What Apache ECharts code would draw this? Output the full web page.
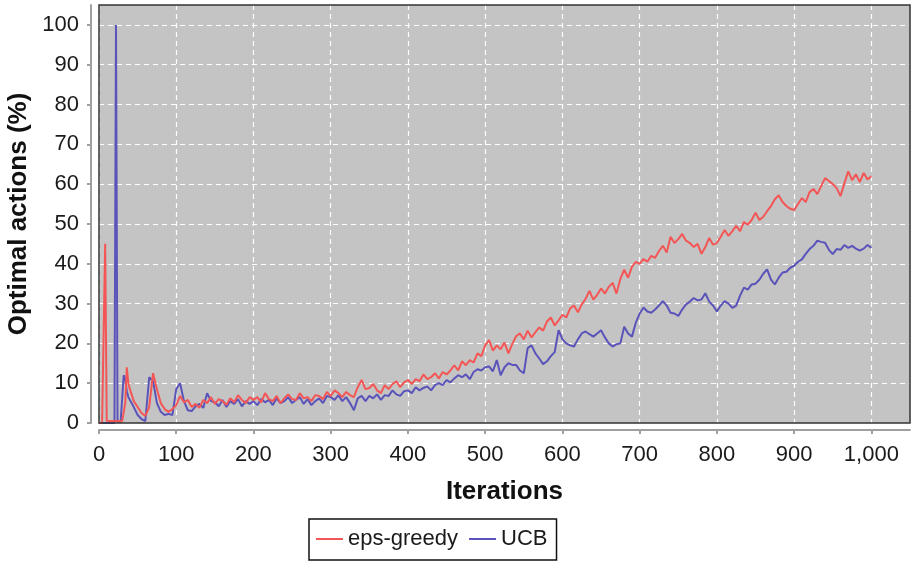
<!DOCTYPE html>
<html>
<head>
<meta charset="utf-8">
<script src="https://cdn.jsdelivr.net/npm/echarts@6/dist/echarts.min.js"></script>
<style>
html,body{margin:0;padding:0;background:#fff;}
#chart{width:911px;height:561px;}
</style>
</head>
<body>
<div id="chart"></div>
<script>
// Iteration positions of the sampled points
const iterations = [
  0,2,4,6,8,10,12,14,16,18,20,22,24,26,28,30,32,34,36,38,
  40,45,50,55,60,65,70,75,80,85,90,95,100,105,110,115,120,125,130,135,140,145,150,155,160,165,170,175,180,185,190,195,
  200,205,210,215,220,225,230,235,240,245,250,255,260,265,270,275,280,285,290,295,
  300,305,310,315,320,325,330,335,340,345,350,355,360,365,370,375,380,385,390,395,
  400,405,410,415,420,425,430,435,440,445,450,455,460,465,470,475,480,485,490,495,
  500,505,510,515,520,525,530,535,540,545,550,555,560,565,570,575,580,585,590,595,
  600,605,610,615,620,625,630,635,640,645,650,655,660,665,670,675,680,685,690,695,
  700,705,710,715,720,725,730,735,740,745,750,755,760,765,770,775,780,785,790,795,
  800,805,810,815,820,825,830,835,840,845,850,855,860,865,870,875,880,885,890,895,
  900,905,910,915,920,925,930,935,940,945,950,955,960,965,970,975,980,985,990,995,1000
];
const epsGreedy = [
  0,0,0,0,45,0.5,0.3,0.5,0.3,0.5,0.3,0.5,0.4,0.5,0.3,0.5,1,5,14,10,
  8.5,5.5,4,2.5,1.8,4,12.5,8.5,5,3.5,2.8,3.5,4.5,6.8,5.2,5.8,4,4.8,3.8,5.8,5,6.5,4.8,6,5.5,4.6,6.2,5.2,7,5.8,5,6.5,
  5.8,6.5,5.2,7.5,6,5.5,6.8,5,6.2,7.2,6,5.8,7.5,6.2,6.5,5.5,7,6.8,6,7.8,
  6.8,8.2,7.5,6.5,7.8,7,6.5,9,10.8,8.5,8.8,9.8,8.2,7.5,9.5,8.5,9.8,10.5,9,10.2,
  10.8,9.8,11,10.5,12.2,11,11.5,12.5,11.2,12.8,12.2,13.2,14.5,13.2,15.5,14.5,15.8,15.2,17.5,16.8,
  19.5,20.8,18.2,19.5,18.5,20.2,17.5,19.8,21.8,22.5,21,23.2,21.5,22.8,24,23.2,25.5,26.5,24.5,25.8,
  27.2,26.5,28.8,29.5,27.8,29.8,31.2,33.2,31,32.2,33.8,32.5,34.2,35.2,32.5,36.2,38.5,36.5,39.2,40.5,
  40,41.2,40.5,42,41.5,43.2,44.5,42.8,46.8,45.2,46.2,47.5,45.8,45.2,44.2,45,42.5,44.2,46.5,44.8,
  45.2,46.8,48.5,47,48.2,49.5,48.2,50.5,49.8,51,52.8,51,51.8,53.2,54.5,56.2,57.2,55.5,54.5,53.8,
  53.5,55,56.5,55.5,58,58.8,57.5,59.5,61.5,60.8,60,59,57,60.2,63.2,61,62.5,60.5,62.8,61.2,62
];
const ucb = [
  0,0,0,0,0,0,0,0,0,0,0,100,0.3,0.3,0.3,0.5,12,11,8,6.5,
  6,4,2,1,0.5,11.5,10.5,5,2.8,2,2.3,2,8.5,10,5.5,3.2,3,4.2,4.8,3.8,7.5,5.5,5.2,4.2,5.8,4,5.5,4.8,6,4.2,5.5,4.8,
  5.5,4.5,6,5.2,5.8,4.5,6.2,5,5.5,6.5,5,5.8,6.5,4.8,6,4.5,5.5,6.2,5,6.8,
  6.5,5.8,7,5.5,6.5,5,3.2,6.2,6.8,5.5,6.8,6.2,7.2,5.8,7,6.8,8.2,7.2,6.8,8,
  8.2,7.5,9,8.2,8.8,9.2,8.2,9.5,10,9.5,10.8,10.2,11.2,12,11.5,12.2,11,12.8,13.5,13.2,
  14,14.2,13,15.8,12,14,15,14.6,14.6,13.2,12.5,18.8,19.5,17.5,16.2,14.8,15.5,16.8,17.8,23.3,
  21,20,19.5,19.2,21,22.5,23,22.3,21.7,22.5,23.3,21.5,20,19.2,19.8,20,24.2,22.5,21.7,25.2,
  27.5,29,28,27.7,28.5,29.5,30.6,29.5,27.7,27.5,26.9,28.5,29.8,30.5,31.4,30.8,31,32.6,30.5,29.5,
  28,29.5,30.6,30,28.9,29.5,32,34,33.5,34.8,35,36,37.5,38.6,36,34.8,36.5,37.8,38,39,
  39.5,40.5,41.1,42.5,43.7,44.5,45.8,45.5,45.3,43.5,42.4,43.7,43.5,44.7,44,44.5,43.8,43.3,43.8,44.7,44
];
const xTicks = [0,100,200,300,400,500,600,700,800,900,1000];
const yTicks = [0,10,20,30,40,50,60,70,80,90,100];

const pairs = vals => iterations.map((it, i) => [it, vals[i]]);
const fmt = v => String(v).replace(/\B(?=(\d{3})+(?!\d))/g, ',');

const W = 911, H = 561;
const GRID = {left: 99, right: 1, top: 5, bottom: 138};
const FONT = 'Liberation Sans, Arial, Helvetica, sans-serif';

const chart = echarts.init(document.getElementById('chart'), null, {renderer: 'canvas'});
chart.setOption({
  animation: false,
  backgroundColor: '#ffffff',
  textStyle: {fontFamily: FONT},
  grid: {
    left: GRID.left, right: GRID.right, top: GRID.top, bottom: GRID.bottom,
    show: true, backgroundColor: '#c4c4c4', borderWidth: 0,
    containLabel: false, outerBoundsMode: 'none'
  },
  graphic: [{
    type: 'rect', silent: true, z: 100,
    shape: {x: GRID.left, y: GRID.top, width: W - GRID.left - GRID.right, height: H - GRID.top - GRID.bottom},
    style: {fill: null, stroke: '#333333', lineWidth: 1.5}
  }],
  legend: {
    left: 309, top: 519,
    padding: [9, 9, 10, 7],
    itemWidth: 27, itemHeight: 2, itemGap: 11,
    borderColor: '#111', borderWidth: 1.5,
    textStyle: {fontSize: 22, color: '#1a1a1a', fontFamily: FONT},
    data: [{name: 'eps-greedy', icon: 'rect'}, {name: 'UCB', icon: 'rect'}]
  },
  xAxis: {
    type: 'value', min: 0, max: 1050,
    offset: 7,
    name: 'Iterations', nameLocation: 'middle', nameGap: 49,
    nameTextStyle: {fontSize: 26, fontWeight: 'bold', color: '#111', fontFamily: FONT},
    axisLine: {show: true, onZero: false, lineStyle: {color: '#a0a0a0', width: 2}},
    axisTick: {show: true, length: 4, customValues: xTicks, lineStyle: {color: '#a0a0a0', width: 2}},
    axisLabel: {customValues: xTicks, fontSize: 22, color: '#1a1a1a', margin: 14, formatter: v => fmt(v)},
    splitLine: {show: true, lineStyle: {color: '#ffffff', type: [5, 4], width: 1.2}}
  },
  yAxis: {
    type: 'value', min: 0, max: 105,
    offset: 8,
    name: 'Optimal actions (%)', nameLocation: 'middle', nameGap: 58,
    nameTextStyle: {fontSize: 26, fontWeight: 'bold', color: '#111', fontFamily: FONT},
    axisLine: {show: true, onZero: false, lineStyle: {color: '#a0a0a0', width: 2}},
    axisTick: {show: true, length: 4, customValues: yTicks, lineStyle: {color: '#a0a0a0', width: 2}},
    axisLabel: {customValues: yTicks, fontSize: 22, color: '#1a1a1a', margin: 12},
    splitLine: {show: true, lineStyle: {color: '#ffffff', type: [5, 4], width: 1.2}}
  },
  series: [
    {
      name: 'eps-greedy', type: 'line', data: pairs(epsGreedy),
      symbol: 'none', showSymbol: false, smooth: false,
      lineStyle: {color: '#f45656', width: 2}, itemStyle: {color: '#f45656'}, z: 3
    },
    {
      name: 'UCB', type: 'line', data: pairs(ucb),
      symbol: 'none', showSymbol: false, smooth: false,
      lineStyle: {color: '#5a54ba', width: 2}, itemStyle: {color: '#5a54ba'}, z: 2
    }
  ]
});
</script>
</body>
</html>
